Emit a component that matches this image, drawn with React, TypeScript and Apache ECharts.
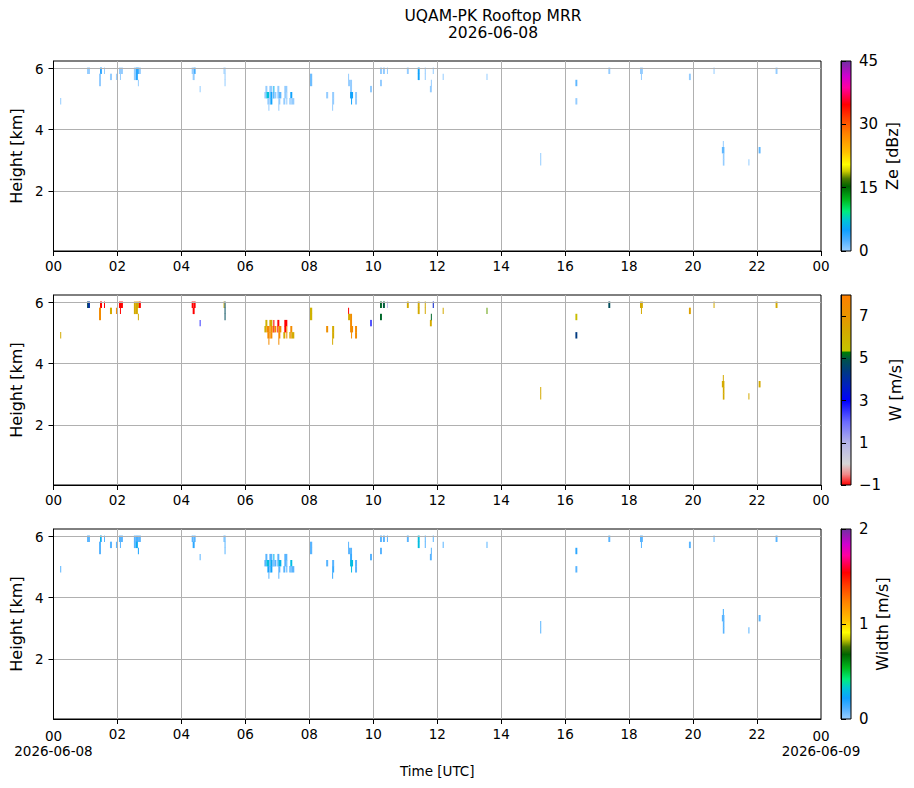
import React, { useEffect, useRef } from "react";
import * as echarts from "echarts";

const FONT = "DejaVu Sans";

// ---- texts -------------------------------------------------------------
const TITLE_LINE = "UQAM-PK Rooftop MRR";
const DAY_LABEL = "2026-06-08";
const NEXT_DAY_LABEL = "2026-06-09";
const TIME_AXIS_NAME = "Time [UTC]";
const HEIGHT_AXIS_NAME = "Height [km]";
const COLORBAR_NAMES = ["Ze [dBz]", "W [m/s]", "Width [m/s]"];

// ---- axes --------------------------------------------------------------
const HOUR_MIN = 0;
const HOUR_MAX = 24;
const HOUR_STEP = 2;
const HEIGHT_MIN = 0.03;
const HEIGHT_MAX = 6.25;
const HEIGHT_TICKS = [2, 4, 6];
const GATE_HALF_DEPTH = 0.105; // km, half of a range gate

const ZE_RANGE = [0, 45];
const ZE_TICKS = [0, 15, 30, 45];
const W_RANGE = [-1, 8];
const W_TICKS = [-1, 1, 3, 5, 7];
const SW_RANGE = [0, 2];
const SW_TICKS = [0, 1, 2];

// ---- radar cells: [start h UTC, end h UTC, gate centre km, Ze dBZ, W m/s, spectral width m/s]
const CELLS_00_03 = [
  [0.21, 0.24, 4.93, 0.2, 6.3, 0.1],
  [1.05, 1.08, 5.93, 0.2, 4.8, 0.1],
  [1.08, 1.14, 5.93, 0.2, 4.1, 0.1],
  [1.455, 1.486, 5.93, 4.0, -1.0, 0.3],
  [1.486, 1.517, 5.93, 3.0, -1.0, 0.1],
  [1.424, 1.486, 5.73, 0.2, 7.5, 0.1],
  [1.424, 1.486, 5.53, 0.2, 7.5, 0.1],
  [1.579, 1.611, 5.93, 0.2, -1.0, 0.1],
  [1.766, 1.829, 5.73, 0.2, 6.3, 0.1],
  [1.953, 1.984, 5.73, 0.2, 7.5, 0.1],
  [2.047, 2.171, 5.93, 0.2, -1.0, 0.1],
  [2.078, 2.109, 5.73, 0.2, -1.0, 0.1],
  [2.514, 2.576, 5.93, 0.2, 6.3, 0.1],
  [2.576, 2.67, 5.93, 4.0, 6.3, 0.12],
  [2.67, 2.732, 5.93, 0.2, -1.0, 0.1],
  [2.514, 2.576, 5.73, 0.2, 6.3, 0.1],
  [2.576, 2.639, 5.73, 4.0, 6.3, 0.25],
  [2.639, 2.67, 5.53, 0.2, 6.3, 0.2],
];

const CELLS_04_06 = [
  [4.321, 4.383, 5.93, 0.2, -1.0, 0.1],
  [4.383, 4.445, 5.93, 3.0, -1.0, 0.1],
  [4.352, 4.414, 5.73, 0.2, -1.0, 0.17],
  [4.57, 4.601, 5.33, 0.2, 2.5, 0.1],
  [5.318, 5.349, 5.93, 0.2, 6.3, 0.1],
  [5.349, 5.38, 5.93, 0.2, 4.8, 0.1],
  [5.349, 5.38, 5.73, 0.2, 4.8, 0.1],
  [5.349, 5.38, 5.53, 0.2, 4.8, 0.1],
];

const CELLS_06_08 = [
  [6.626, 6.688, 5.33, 0.2, 6.0, 0.1],
  [6.595, 6.657, 5.13, 0.2, 6.0, 0.1],
  [6.657, 6.751, 5.13, 7.0, 7.5, 0.3],
  [6.688, 6.751, 4.93, 0.2, 7.5, 0.2],
  [6.72, 6.751, 4.73, 0.2, 7.5, 0.1],
  [6.751, 6.844, 5.33, 0.2, 6.3, 0.1],
  [6.751, 6.782, 5.13, 0.2, 7.5, 0.1],
  [6.782, 6.844, 5.13, 5.0, 7.5, 0.25],
  [6.751, 6.782, 4.93, 0.2, 7.5, 0.1],
  [6.782, 6.844, 4.93, 5.0, 7.5, 0.22],
  [6.875, 6.907, 5.33, 6.0, -1.0, 0.28],
  [6.844, 6.875, 5.13, 0.2, 7.5, 0.1],
  [6.875, 6.907, 5.13, 5.0, -1.0, 0.1],
  [6.907, 6.969, 5.13, 0.2, 7.5, 0.1],
  [7.0, 7.062, 5.33, 0.2, -1.0, 0.1],
  [7.0, 7.031, 5.13, 0.2, -1.0, 0.1],
  [7.031, 7.125, 5.13, 2.0, 7.5, 0.28],
  [7.031, 7.093, 4.93, 0.2, 7.5, 0.1],
  [7.031, 7.062, 4.73, 0.2, 7.5, 0.1],
  [7.187, 7.249, 4.93, 0.2, 6.3, 0.1],
  [7.218, 7.312, 5.33, 0.2, -1.0, 0.1],
  [7.218, 7.28, 5.13, 0.2, -1.0, 0.1],
  [7.28, 7.312, 5.13, 0.2, 7.5, 0.1],
  [7.28, 7.312, 4.93, 0.2, 7.5, 0.1],
  [7.405, 7.467, 5.13, 5.0, 7.5, 0.3],
  [7.374, 7.405, 4.93, 0.2, 6.3, 0.1],
  [7.405, 7.436, 4.93, 0.2, 7.5, 0.1],
  [7.436, 7.53, 4.93, 0.2, 6.3, 0.1],
];

const CELLS_08_12 = [
  [8.007, 8.09, 5.73, 1.5, 6.0, 0.1],
  [8.007, 8.09, 5.53, 1.5, 6.0, 0.1],
  [8.526, 8.589, 5.13, 0.2, 7.3, 0.1],
  [8.713, 8.776, 5.13, 0.2, 6.3, 0.1],
  [8.713, 8.776, 4.93, 0.2, 6.3, 0.15],
  [8.713, 8.744, 4.73, 0.2, 6.3, 0.15],
  [9.212, 9.243, 5.73, 0.2, -1.0, 0.1],
  [9.212, 9.274, 5.53, 0.2, 6.3, 0.1],
  [9.274, 9.336, 5.53, 0.2, 7.3, 0.1],
  [9.274, 9.336, 5.33, 0.2, 7.5, 0.15],
  [9.274, 9.368, 5.13, 5.0, 7.5, 0.3],
  [9.305, 9.336, 4.93, 5.0, 7.5, 0.3],
  [9.43, 9.492, 5.13, 0.2, 7.5, 0.1],
  [9.43, 9.492, 4.93, 0.2, 7.5, 0.1],
  [9.897, 9.959, 5.33, 0.2, 2.2, 0.1],
  [10.209, 10.271, 5.93, 0.2, 5.1, 0.1],
  [10.209, 10.271, 5.53, 0.2, 5.1, 0.1],
  [10.302, 10.364, 5.93, 0.2, 5.0, 0.1],
  [10.427, 10.458, 5.93, 0.2, 0.9, 0.1],
  [11.05, 11.11, 5.93, 0.2, 6.3, 0.1],
  [11.39, 11.45, 5.93, 5.0, 6.3, 0.3],
  [11.39, 11.45, 5.73, 5.0, 6.3, 0.3],
  [11.61, 11.64, 5.93, 0.2, 6.3, 0.1],
  [11.61, 11.64, 5.73, 0.2, 6.3, 0.1],
  [11.77, 11.83, 5.33, 0.2, 6.3, 0.1],
  [11.8, 11.83, 5.53, 0.2, 5.1, 0.1],
  [11.86, 11.89, 5.93, 0.2, 3.6, 0.1],
];

const CELLS_12_24 = [
  [12.17, 12.2, 5.73, 0.2, 6.3, 0.1],
  [13.54, 13.57, 5.73, 0.2, 5.3, 0.1],
  [15.22, 15.25, 3.13, 0.2, 6.3, 0.1],
  [15.22, 15.25, 2.93, 0.2, 6.3, 0.1],
  [16.32, 16.38, 5.53, 2.0, 5.6, 0.17],
  [16.32, 16.38, 4.93, 0.2, 4.4, 0.1],
  [17.35, 17.41, 5.93, 0.2, 4.8, 0.1],
  [18.34, 18.43, 5.93, 0.2, 6.3, 0.1],
  [18.37, 18.4, 5.73, 0.2, 6.3, 0.1],
  [19.87, 19.93, 5.73, 0.2, 6.6, 0.1],
  [20.64, 20.67, 5.93, 0.2, 6.3, 0.1],
  [20.93, 20.96, 3.53, 0.2, 6.3, 0.15],
  [20.9, 20.98, 3.33, 2.0, 6.3, 0.1],
  [20.93, 20.98, 3.13, 0.2, 6.3, 0.1],
  [20.93, 20.98, 2.93, 0.2, 6.3, 0.1],
  [21.73, 21.76, 2.93, 0.2, 6.3, 0.1],
  [22.05, 22.11, 3.33, 2.0, 6.3, 0.1],
  [22.58, 22.64, 5.93, 0.2, 6.3, 0.1],
];

const CELLS = [
  ...CELLS_00_03,
  ...CELLS_04_06,
  ...CELLS_06_08,
  ...CELLS_08_12,
  ...CELLS_12_24,
];

// ---- colour maps (fraction of range, colour) ----------------------------
const RAINBOW_STOPS: [number, string][] = [
  [0.0, "#9acfff"],
  [0.06, "#4aaeff"],
  [0.11, "#0ea0ff"],
  [0.16, "#00c4d8"],
  [0.21, "#00ee7a"],
  [0.27, "#00b81e"],
  [0.34, "#006400"],
  [0.38, "#4a7a00"],
  [0.42, "#cccc00"],
  [0.455, "#ffff00"],
  [0.52, "#ffc000"],
  [0.62, "#ff8000"],
  [0.7, "#ff4000"],
  [0.77, "#ff0000"],
  [0.86, "#ff00a0"],
  [0.92, "#d000d0"],
  [1.0, "#7030a0"],
];

const VELOCITY_STOPS: [number, string][] = [
  [0.0, "#ff0000"],
  [0.056, "#f08a8a"],
  [0.111, "#d6d6d6"],
  [0.222, "#b4b4e8"],
  [0.333, "#6a6aff"],
  [0.444, "#0000ff"],
  [0.522, "#0020c0"],
  [0.6, "#003a80"],
  [0.656, "#005050"],
  [0.7, "#008000"],
  [0.705, "#c4c400"],
  [0.811, "#d4aa00"],
  [0.889, "#e89500"],
  [1.0, "#ff8000"],
];

function hexToRgb(h: string): number[] {
  const n = parseInt(h.slice(1), 16);
  return [(n >> 16) & 255, (n >> 8) & 255, n & 255];
}

function sampleStops(stops: [number, string][], n: number): string[] {
  const out: string[] = [];
  for (let i = 0; i < n; i++) {
    const f = i / (n - 1);
    let k = 0;
    while (k < stops.length - 2 && f > stops[k + 1][0]) k++;
    const [f0, c0] = stops[k];
    const [f1, c1] = stops[k + 1];
    const u = f1 > f0 ? Math.min(1, Math.max(0, (f - f0) / (f1 - f0))) : 0;
    const a = hexToRgb(c0);
    const b = hexToRgb(c1);
    out.push("rgb(" + a.map((v, j) => Math.round(v + (b[j] - v) * u)).join(",") + ")");
  }
  return out;
}

const pad2 = (v: number) => String(Math.round(v) % 24).padStart(2, "0");
const signed = (v: number) => (v < 0 ? "\u2212" + Math.abs(v) : String(v));

// ---- layout -------------------------------------------------------------
const PANEL_TOPS = [61, 295, 529];
const PANEL_LEFT = 51;
const PANEL_WIDTH = 770;
const PANEL_HEIGHT = 190;
const BAR_LEFT = 841;
const BAR_WIDTH = 10;

const PANELS = [
  { dim: 3, range: ZE_RANGE, ticks: ZE_TICKS, stops: RAINBOW_STOPS, name: COLORBAR_NAMES[0], gap: 33 },
  { dim: 4, range: W_RANGE, ticks: W_TICKS, stops: VELOCITY_STOPS, name: COLORBAR_NAMES[1], gap: 36 },
  { dim: 5, range: SW_RANGE, ticks: SW_TICKS, stops: RAINBOW_STOPS, name: COLORBAR_NAMES[2], gap: 23 },
];

function renderCell(params: any, api: any) {
  const t0 = api.value(0);
  const t1 = api.value(1);
  const h = api.value(2);
  const p0 = api.coord([t0, h + GATE_HALF_DEPTH]);
  const p1 = api.coord([t1, h - GATE_HALF_DEPTH]);
  return {
    type: "rect",
    shape: { x: p0[0], y: p0[1], width: Math.max(1, p1[0] - p0[0]), height: p1[1] - p0[1] },
    style: { fill: api.visual("color") },
  };
}

function makeBarRenderer(stops: [number, string][]) {
  return (params: any, api: any) => {
    const p0 = api.coord([api.value(0), api.value(3)]);
    const p1 = api.coord([api.value(1), api.value(2)]);
    const grad = new echarts.graphic.LinearGradient(
      0,
      1,
      0,
      0,
      stops.map(([f, c]) => ({ offset: f, color: c }))
    );
    return {
      type: "rect",
      shape: { x: p0[0], y: p0[1], width: p1[0] - p0[0], height: p1[1] - p0[1] },
      style: { fill: grad, stroke: "#000", lineWidth: 1 },
    };
  };
}

export default function App() {
  const ref = useRef<HTMLDivElement>(null);

  useEffect(() => {
    document.body.style.margin = "0";
    if (!ref.current) return;
    const chart = echarts.init(ref.current, undefined, { renderer: "svg" });

    const grids: any[] = [];
    const xAxes: any[] = [];
    const yAxes: any[] = [];
    const series: any[] = [];
    const visualMaps: any[] = [];
    const lastPanel = PANELS.length - 1;

    PANELS.forEach((p, i) => {
      const last = i === lastPanel;
      grids.push({
        left: PANEL_LEFT,
        top: PANEL_TOPS[i],
        width: PANEL_WIDTH,
        height: PANEL_HEIGHT,
        show: true,
        borderColor: "#000",
        borderWidth: 1,
        backgroundColor: "transparent",
        containLabel: false,
      });
      xAxes.push({
        type: "value",
        gridIndex: i,
        min: HOUR_MIN,
        max: HOUR_MAX,
        interval: HOUR_STEP,
        z: 3,
        axisLine: { show: true, onZero: false, lineStyle: { color: "#000", width: 1 } },
        axisTick: { show: true, inside: false, length: 5, lineStyle: { color: "#000", width: 1 } },
        axisLabel: {
          show: true,
          margin: 8,
          fontSize: 13.5,
          color: "#000",
          fontFamily: FONT,
          // bottom panel: end labels carry the date and are drawn below as graphics
          showMinLabel: !last,
          showMaxLabel: !last,
          hideOverlap: false,
          formatter: (v: number) => pad2(v),
        },
        splitLine: {
          show: true,
          showMinLine: false,
          showMaxLine: false,
          lineStyle: { color: "#b0b0b0", width: 1 },
        },
      });
      yAxes.push({
        type: "value",
        gridIndex: i,
        min: HEIGHT_MIN,
        max: HEIGHT_MAX,
        z: 3,
        axisLine: { show: true, onZero: false, lineStyle: { color: "#000", width: 1 } },
        axisTick: {
          show: true,
          inside: false,
          length: 5,
          customValues: HEIGHT_TICKS,
          lineStyle: { color: "#000", width: 1 },
        },
        axisLabel: {
          show: true,
          customValues: HEIGHT_TICKS,
          margin: 10,
          fontSize: 13.5,
          color: "#000",
          fontFamily: FONT,
        },
        splitLine: { show: true, lineStyle: { color: "#b0b0b0", width: 1 } },
        name: HEIGHT_AXIS_NAME,
        nameLocation: "middle",
        nameGap: 25,
        nameRotate: 90,
        nameTextStyle: { fontSize: 16, color: "#000", fontFamily: FONT },
      });
      series.push({
        type: "custom",
        xAxisIndex: i,
        yAxisIndex: i,
        data: CELLS,
        encode: { x: [0, 1], y: 2 },
        renderItem: renderCell,
        clip: true,
        silent: true,
        z: 2,
      });
      visualMaps.push({
        type: "continuous",
        show: false,
        seriesIndex: i,
        dimension: p.dim,
        min: p.range[0],
        max: p.range[1],
        inRange: { color: sampleStops(p.stops, 96) },
      });
    });

    PANELS.forEach((p, i) => {
      const gi = PANELS.length + i;
      grids.push({
        left: BAR_LEFT,
        top: PANEL_TOPS[i],
        width: BAR_WIDTH,
        height: PANEL_HEIGHT,
        show: false,
      });
      xAxes.push({ type: "value", gridIndex: gi, min: 0, max: 1, show: false });
      yAxes.push({
        type: "value",
        gridIndex: gi,
        position: "right",
        min: p.range[0],
        max: p.range[1],
        z: 3,
        axisLine: { show: true, lineStyle: { color: "#000", width: 1 } },
        axisTick: {
          show: true,
          inside: false,
          length: 5,
          customValues: p.ticks,
          lineStyle: { color: "#000", width: 1 },
        },
        axisLabel: {
          show: true,
          customValues: p.ticks,
          margin: 8,
          fontSize: 15,
          color: "#000",
          fontFamily: FONT,
          formatter: (v: number) => signed(v),
        },
        splitLine: { show: false },
        name: p.name,
        nameLocation: "middle",
        nameGap: p.gap,
        nameRotate: 90,
        nameTextStyle: { fontSize: 16, color: "#000", fontFamily: FONT },
      });
      series.push({
        type: "custom",
        xAxisIndex: gi,
        yAxisIndex: gi,
        data: [[0, 1, p.range[0], p.range[1]]],
        encode: { x: [0, 1], y: [2, 3] },
        renderItem: makeBarRenderer(p.stops),
        silent: true,
        z: 2,
      });
    });

    chart.setOption({
      animation: false,
      backgroundColor: "#ffffff",
      textStyle: { fontFamily: FONT, color: "#000" },
      grid: grids,
      xAxis: xAxes,
      yAxis: yAxes,
      visualMap: visualMaps,
      series,
    });

    // bottom panel: end tick labels, dates beneath them, and the time axis name
    const xStart = chart.convertToPixel({ xAxisIndex: lastPanel }, HOUR_MIN) as number;
    const xEnd = chart.convertToPixel({ xAxisIndex: lastPanel }, HOUR_MAX) as number;
    const xMid = chart.convertToPixel({ xAxisIndex: lastPanel }, (HOUR_MIN + HOUR_MAX) / 2) as number;
    const axisY = PANEL_TOPS[lastPanel] + PANEL_HEIGHT;
    const textBase = {
      fontSize: 13.5,
      fontFamily: FONT,
      fill: "#000",
      align: "center",
      verticalAlign: "middle",
      textAlign: "center",
      textVerticalAlign: "middle",
    };

    chart.setOption({
      graphic: [
        {
          type: "text",
          x: 493,
          y: 24,
          z: 10,
          style: { ...textBase, text: TITLE_LINE + "\n" + DAY_LABEL, fontSize: 15.5, lineHeight: 17 },
        },
        { type: "text", x: xStart, y: axisY + 17, z: 10, style: { ...textBase, text: pad2(HOUR_MIN) } },
        { type: "text", x: xEnd, y: axisY + 17, z: 10, style: { ...textBase, text: pad2(HOUR_MAX) } },
        { type: "text", x: xStart, y: axisY + 32, z: 10, style: { ...textBase, text: DAY_LABEL } },
        { type: "text", x: xEnd, y: axisY + 32, z: 10, style: { ...textBase, text: NEXT_DAY_LABEL } },
        { type: "text", x: xMid, y: axisY + 52, z: 10, style: { ...textBase, text: TIME_AXIS_NAME } },
      ],
    });

    return () => chart.dispose();
  }, []);

  return <div ref={ref} style={{ width: 914, height: 788 }} />;
}
